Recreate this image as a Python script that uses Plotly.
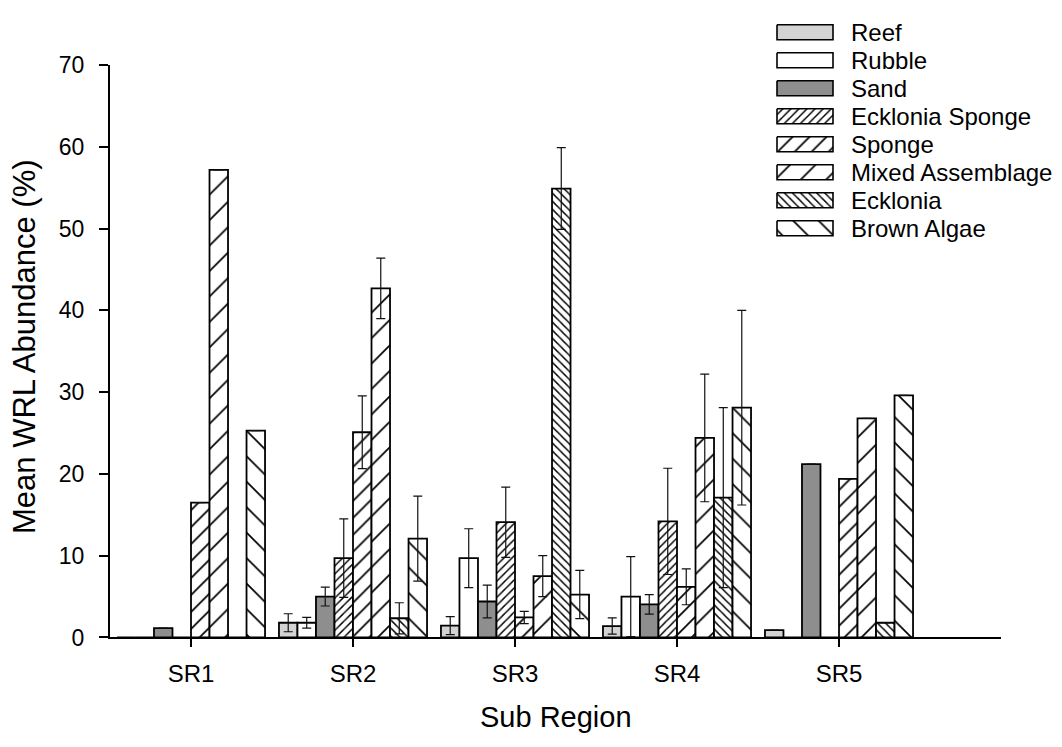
import plotly.graph_objects as go

# ---- data -------------------------------------------------------------
regions = ["SR1", "SR2", "SR3", "SR4", "SR5"]
region_pos = [1, 2, 3, 4, 5]
habitats = ["Reef", "Rubble", "Sand", "Ecklonia Sponge", "Sponge",
            "Mixed Assemblage", "Ecklonia", "Brown Algae"]

# mean abundance (%) per sub region
reef = [0.0, 1.8, 1.45, 1.4, 0.9]
rubble = [0.0, 1.8, 9.7, 5.0, 0.0]
sand = [1.15, 5.0, 4.4, 4.05, 21.2]
ecklonia_sponge = [0.0, 9.7, 14.1, 14.2, 0.0]
sponge = [16.5, 25.1, 2.45, 6.2, 19.4]
mixed_assemblage = [57.2, 42.7, 7.5, 24.4, 26.8]
ecklonia = [0.0, 2.35, 54.9, 17.1, 1.8]
brown_algae = [25.3, 12.1, 5.25, 28.1, 29.6]

# standard errors (None = not reported)
reef_se = [None, 1.1, 1.1, 1.0, None]
rubble_se = [None, 0.65, 3.6, 4.9, None]
sand_se = [None, 1.15, 2.0, 1.2, None]
ecklonia_sponge_se = [None, 4.8, 4.3, 6.5, None]
sponge_se = [None, 4.45, 0.75, 2.2, None]
mixed_assemblage_se = [None, 3.7, 2.5, 7.8, None]
ecklonia_se = [None, 1.9, 5.0, 11.0, None]
brown_algae_se = [None, 5.2, 2.95, 11.9, None]

means = [reef, rubble, sand, ecklonia_sponge, sponge,
         mixed_assemblage, ecklonia, brown_algae]
errors = [reef_se, rubble_se, sand_se, ecklonia_sponge_se, sponge_se,
          mixed_assemblage_se, ecklonia_se, brown_algae_se]

# ---- styling ----------------------------------------------------------
FONT = "Liberation Sans, Arial, Helvetica, sans-serif"
W, H = 1062, 747
PLOT_L, PLOT_R, PLOT_T, PLOT_B = 110, 1001, 54, 647

# fill colour, hatch shape, hatch spacing (px), hatch solidity
styles = [
    dict(color="#d3d3d3", shape="", size=8, solidity=0.2),
    dict(color="#ffffff", shape="", size=8, solidity=0.2),
    dict(color="#8e8e8e", shape="", size=8, solidity=0.2),
    dict(color="#ffffff", shape="/", size=5.7, solidity=0.25),
    dict(color="#ffffff", shape="/", size=12.0, solidity=0.14),
    dict(color="#ffffff", shape="/", size=18.0, solidity=0.095),
    dict(color="#ffffff", shape="\\", size=5.7, solidity=0.25),
    dict(color="#ffffff", shape="\\", size=18.0, solidity=0.095),
]


def pattern_for(st):
    if not st["shape"]:
        return None
    return dict(shape=st["shape"], size=st["size"], solidity=st["solidity"],
                fgcolor="black", bgcolor=st["color"], fillmode="replace")


fig = go.Figure()

for name, vals, errs, st in zip(habitats, means, errors, styles):
    marker = dict(color=st["color"], line=dict(color="black", width=1.8))
    pat = pattern_for(st)
    if pat:
        marker["pattern"] = pat
    fig.add_trace(go.Bar(
        x=region_pos, y=vals, name=name, marker=marker,
        error_y=dict(type="data", array=[0 if e is None else e for e in errs],
                     visible=True, color="#111111", thickness=1.2, width=4.5),
        showlegend=False, xaxis="x", yaxis="y",
    ))

# ---- legend: patterned swatches drawn on a pixel-space overlay ----------
SW_X0, SW_X1 = 777, 833
ROW0, ROW_STEP, SW_H = 20.0, 29.0, 15.5
TEXT_X = 849
for i, (name, st) in enumerate(zip(habitats, styles)):
    cy = ROW0 + ROW_STEP * i
    y0, y1 = cy - SW_H / 2, cy + SW_H / 2
    kw = {}
    pat = pattern_for(st)
    if pat:
        kw["fillpattern"] = pat
    fig.add_trace(go.Scatter(
        x=[SW_X0, SW_X1, SW_X1, SW_X0, SW_X0],
        y=[y0, y0, y1, y1, y0],
        mode="lines", fill="toself", fillcolor=st["color"],
        line=dict(color="black", width=1.6),
        hoverinfo="skip", showlegend=False, xaxis="x2", yaxis="y2", **kw,
    ))
    fig.add_annotation(
        x=TEXT_X / W, y=1 - cy / H, xref="paper", yref="paper",
        text=name, showarrow=False, xanchor="left", yanchor="middle",
        font=dict(family=FONT, size=24, color="black"),
    )

# ---- axis titles ------------------------------------------------------
fig.add_annotation(
    x=(PLOT_L + PLOT_R) / 2 / W, y=1 - 729 / H, xref="paper", yref="paper",
    text="Sub Region", showarrow=False, xanchor="center", yanchor="middle",
    font=dict(family=FONT, size=29, color="black"),
)
fig.add_annotation(
    x=25 / W, y=1 - 346 / H, xref="paper", yref="paper",
    text="Mean WRL Abundance (%)", showarrow=False, textangle=-90,
    xanchor="center", yanchor="middle",
    font=dict(family=FONT, size=31, color="black"),
)

fig.update_layout(
    width=W, height=H,
    margin=dict(l=0, r=0, t=0, b=0),
    paper_bgcolor="white", plot_bgcolor="rgba(0,0,0,0)",
    barmode="group", bargap=0.086, bargroupgap=0,
    font=dict(family=FONT, color="black"),
    xaxis=dict(
        domain=[PLOT_L / W, PLOT_R / W], range=[0.5, 6.0],
        tickmode="array", tickvals=region_pos, ticktext=regions,
        ticks="outside", ticklen=8, tickwidth=1.5, tickcolor="black",
        showline=True, linecolor="black", linewidth=2,
        showgrid=False, zeroline=False,
        tickfont=dict(family=FONT, size=24, color="black"),
        ticklabelstandoff=6,
        anchor="y", fixedrange=True,
    ),
    yaxis=dict(
        domain=[1 - PLOT_B / H, 1 - PLOT_T / H], range=[0, 70],
        tickmode="array", tickvals=[0, 10, 20, 30, 40, 50, 60, 70],
        ticks="outside", ticklen=9, tickwidth=1.5, tickcolor="black",
        showline=True, linecolor="black", linewidth=2,
        showgrid=False, zeroline=False,
        tickfont=dict(family=FONT, size=23, color="black"),
        ticklabelstandoff=10,
        anchor="x", fixedrange=True,
    ),
    xaxis2=dict(domain=[0, 1], range=[0, W], visible=False, anchor="y2",
                fixedrange=True),
    yaxis2=dict(domain=[0, 1], range=[H, 0], visible=False, anchor="x2",
                fixedrange=True),
)

fig.write_html("out.html")
